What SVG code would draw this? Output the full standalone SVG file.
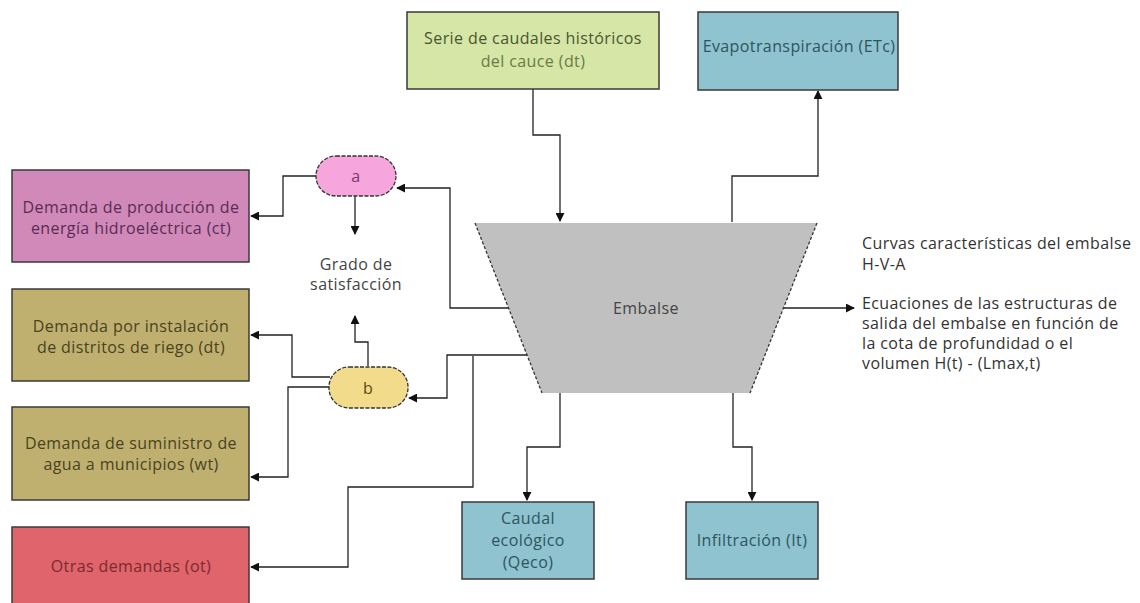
<svg xmlns="http://www.w3.org/2000/svg" width="1140" height="603" viewBox="0 0 1140 603">
<style>
  text { font-family: "Open Sans", "Liberation Sans", sans-serif; font-size: 16px; letter-spacing: 0.4px; text-anchor: middle; dominant-baseline: central; }
  .box { stroke: #3a3a3a; stroke-width: 1.5; }
  .conn { fill: none; stroke: #222; stroke-width: 1.3; }
  .lt { text-anchor: start; fill: #333; }
</style>
<defs>
  <marker id="arr" viewBox="0 0 10 10" refX="9" refY="5" markerWidth="9" markerHeight="9" markerUnits="userSpaceOnUse" orient="auto">
    <path d="M0,0 L10,5 L0,10 z" fill="#111"/>
  </marker>
</defs>
<rect width="1140" height="603" fill="#fff"/>

<g id="connectors">
  <polyline class="conn" points="533,89 533,135 560,135 560,221" marker-end="url(#arr)"/>
  <polyline class="conn" points="732,222 732,176 818,176 818,91" marker-end="url(#arr)"/>
  <polyline class="conn" points="509,308 450,308 450,188 397,188" marker-end="url(#arr)"/>
  <polyline class="conn" points="527,355 447,355 447,398 409,398" marker-end="url(#arr)"/>
  <polyline class="conn" points="316,176 283,176 283,216 251,216" marker-end="url(#arr)"/>
  <polyline class="conn" points="355,196 355,234" marker-end="url(#arr)"/>
  <polyline class="conn" points="368,366 368,342 355,342 355,316" marker-end="url(#arr)"/>
  <polyline class="conn" points="330,377 292,377 292,335 251,335" marker-end="url(#arr)"/>
  <polyline class="conn" points="330,387 288,387 288,477 251,477" marker-end="url(#arr)"/>
  <polyline class="conn" points="473,356 473,487 348,487 348,567 251,567" marker-end="url(#arr)"/>
  <polyline class="conn" points="560,393 560,447 527,447 527,500" marker-end="url(#arr)"/>
  <polyline class="conn" points="733,393 733,447 752,447 752,500" marker-end="url(#arr)"/>
  <polyline class="conn" points="783,308 854,308" marker-end="url(#arr)"/>
</g>

<g id="serie">
  <rect class="box" x="407" y="12" width="252" height="77" fill="#d5e6a6"/>
  <text x="533" y="38" fill="#4a5530">Serie de caudales históricos</text>
  <text x="533" y="61" fill="#6a7a45">del cauce (dt)</text>
</g>

<g id="evapo">
  <rect class="box" x="698" y="12" width="200" height="78" fill="#8fc3cf"/>
  <text x="799" y="46" fill="#2d5560">Evapotranspiración (ETc)</text>
</g>

<g id="dem-energia">
  <rect class="box" x="12" y="170" width="237" height="92" fill="#d089b9"/>
  <text x="131" y="207" fill="#5a2c55">Demanda de producción de</text>
  <text x="131" y="228" fill="#5a2c55">energía hidroeléctrica (ct)</text>
</g>

<g id="dem-riego">
  <rect class="box" x="12" y="289" width="237" height="92" fill="#bfb070"/>
  <text x="131" y="326" fill="#4a4220">Demanda por instalación</text>
  <text x="131" y="347" fill="#4a4220">de distritos de riego (dt)</text>
</g>

<g id="dem-municipios">
  <rect class="box" x="12" y="407" width="237" height="93" fill="#bfb070"/>
  <text x="131" y="443" fill="#4a4220">Demanda de suministro de</text>
  <text x="131" y="464" fill="#4a4220">agua a municipios (wt)</text>
</g>

<g id="dem-otras">
  <rect class="box" x="12" y="527" width="237" height="80" fill="#df646b"/>
  <text x="131" y="566" fill="#7a2a2e">Otras demandas (ot)</text>
</g>

<g id="a">
  <rect x="316" y="156" width="80" height="40" rx="20" fill="#f6a6dd" stroke="#333" stroke-width="1.3" stroke-dasharray="4 1.5"/>
  <text x="356" y="176" fill="#7a3a6a">a</text>
</g>

<g id="b">
  <rect x="329" y="367" width="79" height="41" rx="20" fill="#f2dc8b" stroke="#333" stroke-width="1.3" stroke-dasharray="4 1.5"/>
  <text x="368" y="388" fill="#5a4a10">b</text>
</g>

<g id="grado">
  <text x="356" y="264" fill="#444">Grado de</text>
  <text x="356" y="284" fill="#444">satisfacción</text>
</g>

<g id="embalse">
  <polygon points="475,223 817,223 750,393 542,393" fill="#c0c0c0"/>
  <line x1="475" y1="223" x2="542" y2="393" stroke="#333" stroke-width="1.3" stroke-dasharray="3 2"/>
  <line x1="817" y1="223" x2="750" y2="393" stroke="#333" stroke-width="1.3" stroke-dasharray="3 2"/>
  <text x="646" y="308" fill="#444">Embalse</text>
</g>

<g id="caudal">
  <rect class="box" x="462" y="502" width="132" height="77" fill="#8fc3cf"/>
  <text x="528" y="518" fill="#2d5560">Caudal</text>
  <text x="528" y="540" fill="#2d5560">ecológico</text>
  <text x="528" y="562" fill="#2d5560">(Qeco)</text>
</g>

<g id="infiltracion">
  <rect class="box" x="686" y="502" width="132" height="77" fill="#8fc3cf"/>
  <text x="752" y="540" fill="#2d5560">Infiltración (It)</text>
</g>

<g id="curvas">
  <text class="lt" x="862" y="243">Curvas características del embalse</text>
  <text class="lt" x="862" y="264">H-V-A</text>
  <text class="lt" x="862" y="303">Ecuaciones de las estructuras de</text>
  <text class="lt" x="862" y="323">salida del embalse en función de</text>
  <text class="lt" x="862" y="343">la cota de profundidad o el</text>
  <text class="lt" x="862" y="363">volumen H(t) - (Lmax,t)</text>
</g>
</svg>
